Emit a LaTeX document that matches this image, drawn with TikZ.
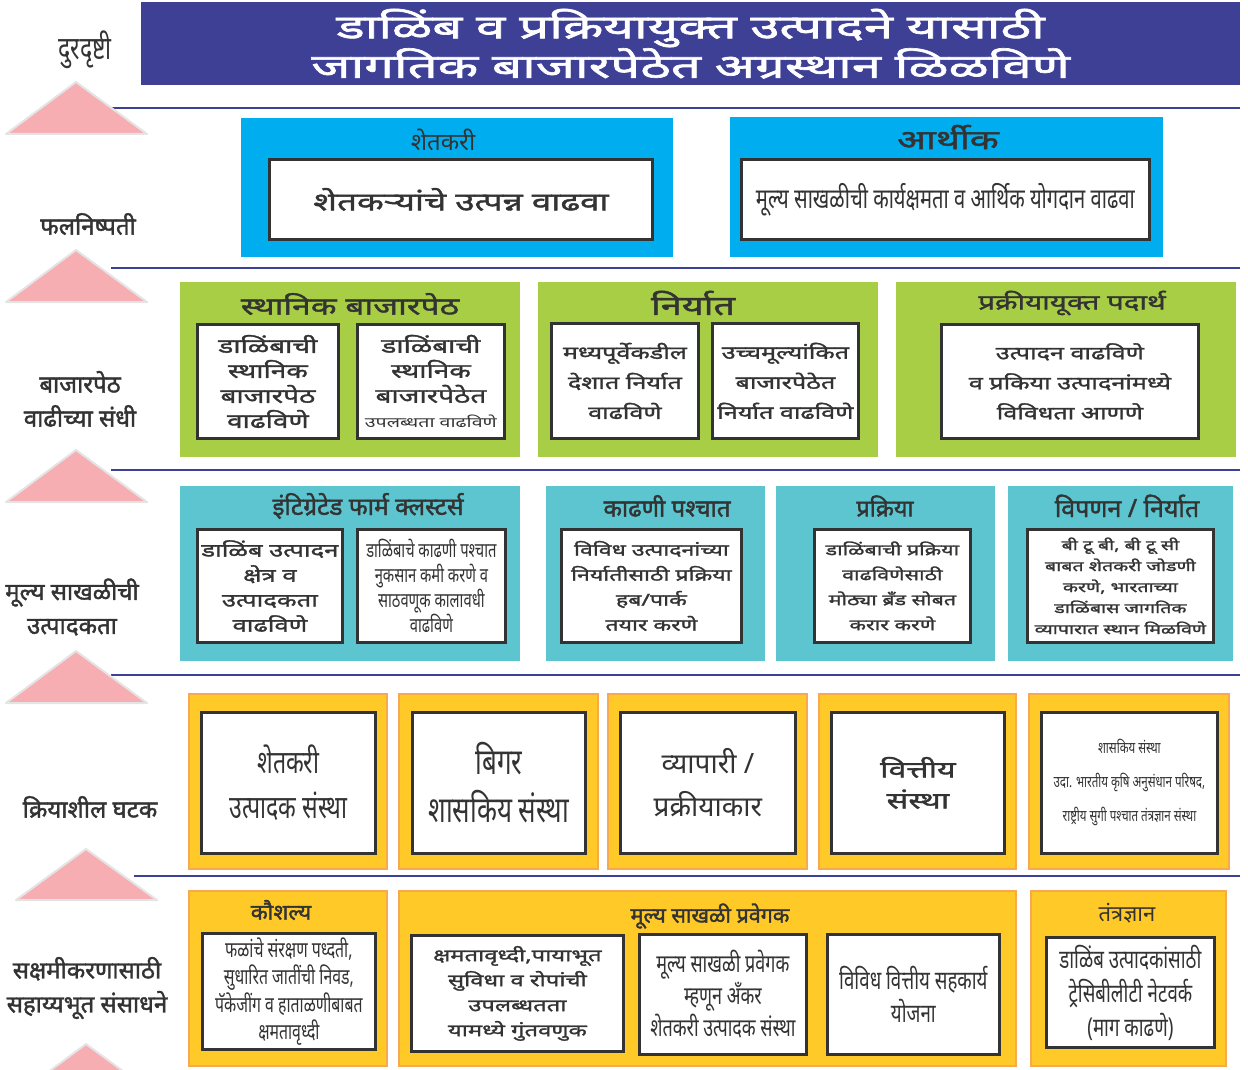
\documentclass[tikz,border=0pt]{standalone}
\usepackage{fontspec}
\newfontfamily\mr[Script=Devanagari]{Noto Sans}
\newfontfamily\mrb[Script=Devanagari,FakeBold=1.6]{Noto Sans}
\newfontfamily\mrw[Script=Devanagari,FakeStretch=1.4,FakeBold=1.6]{Noto Sans}
\newfontfamily\mrt[Script=Devanagari,FakeStretch=1.6,FakeBold=2]{Noto Sans}
\newfontfamily\mrn[Script=Devanagari,FakeStretch=0.72]{Noto Sans}
\definecolor{navy}{HTML}{3E4096}
\definecolor{skyblue}{HTML}{00AEEF}
\definecolor{leaf}{HTML}{A8CE45}
\definecolor{teal}{HTML}{5CC5CF}
\definecolor{sun}{HTML}{FFCA28}
\definecolor{sunedge}{HTML}{F7A850}
\definecolor{pinkfill}{HTML}{F7AEB3}
\definecolor{pinkedge}{HTML}{E4E4E4}
\definecolor{ink}{HTML}{333333}
\tikzset{%
	panel/.style = {anchor=north west,inner sep=0,draw=none},
	skypanel/.style = {panel,fill=skyblue},
	leafpanel/.style = {panel,fill=leaf},
	tealpanel/.style = {panel,fill=teal},
	sunpanel/.style = {panel,fill=sun,draw=sunedge,line width=2},
	wbox/.style = {anchor=north west,inner sep=0,draw=ink,line width=2.8,fill=white,align=center,text=ink},
	ptitle/.style = {text=ink,font=\mrb\fontsize{21}{25}\selectfont},
	sidelabel/.style = {align=center,text=ink,font=\mrb\fontsize{24}{34}\selectfont},
	uparrow/.style = {fill=pinkfill,draw=pinkedge,line width=2,line join=round},
	bandline/.style = {draw=navy,line width=2.6}%
}
\newcommand{\fs}[2]{\fontsize{#1}{#2}\selectfont}

\begin{document}
\begin{tikzpicture}[x=1pt,y=-1pt]
	\useasboundingbox (0,0) rectangle (1248,1070);
	
	% separators and arrows
	\draw[bandline] (111,108) -- (1240,108);
	\draw[bandline] (111,268) -- (1240,268);
	\draw[bandline] (111,470) -- (1240,470);
	\draw[bandline] (111,675) -- (1240,675);
	\draw[bandline] (134,876) -- (1240,876);
	\draw[uparrow] (6,134) -- (76,82) -- (147,134) -- cycle;
	\draw[uparrow] (6,302) -- (76,250) -- (147,302) -- cycle;
	\draw[uparrow] (6,502) -- (76,450) -- (147,502) -- cycle;
	\draw[uparrow] (6,703) -- (76,651) -- (147,703) -- cycle;
	\draw[uparrow] (16,900) -- (86,849) -- (157,900) -- cycle;
	\draw[uparrow] (16,1096) -- (86,1044) -- (157,1096) -- cycle;
	
	% side labels
	\node[sidelabel,font=\mrn\fs{32}{34}](lvision) at (85,50){दुरदृष्टी};
	\node[sidelabel](loutcome) at (88,224){फलनिष्पती};
	\node[sidelabel](lmarket) at (80,399){बाजारपेठ\\वाढीच्या संधी};
	\node[sidelabel](lvalue) at (72,607){मूल्य साखळीची\\उत्पादकता};
	\node[sidelabel](lactors) at (90,807){क्रियाशील घटक};
	\node[sidelabel](lsupport) at (87,988){सक्षमीकरणासाठी\\सहाय्यभूत संसाधने};
	
	% vision
	\node[panel,fill=navy,minimum width=1099,minimum height=83,align=center,text=white,
		font=\mrt\fs{33}{34}](vision) at (141,2)
		{डाळिंब व प्रक्रियायुक्त उत्पादने यासाठी\\जागतिक बाजारपेठेत अग्रस्थान ळिळविणे};
	
	% outcomes
	\node[skypanel,minimum width=432,minimum height=139](farmer) at (241,118){};
	\node[ptitle,font=\mr\fs{24}{25}](farmer-t) at (443,140){शेतकरी};
	\node[wbox,minimum width=383,minimum height=80,font=\mrw\fs{25}{28}](farmer-b) at (268,158)
		{शेतकऱ्यांचे उत्पन्न वाढवा};
	\node[skypanel,minimum width=433,minimum height=140](econ) at (730,117){};
	\node[ptitle,font=\mrw\fs{27}{28}](econ-t) at (948,137){आर्थीक};
	\node[wbox,minimum width=408,minimum height=80,font=\mrn\fs{28}{30}](econ-b) at (740,158)
		{मूल्य साखळीची कार्यक्षमता व आर्थिक योगदान वाढवा};
	
	% market opportunities
	\node[leafpanel,minimum width=340,minimum height=175](local) at (180,282){};
	\node[ptitle,font=\mrw\fs{24}{25}](local-t) at (350,304){स्थानिक बाजारपेठ};
	\node[wbox,minimum width=141,minimum height=114,font=\mrw\fs{20}{25}](local-b1) at (196,323)
		{डाळिंबाची\\स्थानिक\\बाजारपेठ\\वाढविणे};
	\node[wbox,minimum width=147,minimum height=114,font=\mrw\fs{20}{25}](local-b2) at (356,323)
		{डाळिंबाची\\स्थानिक\\बाजारपेठेत\\{\mr\fs{14}{25}\addfontfeature{FakeStretch=1.4}उपलब्धता वाढविणे}};
	\node[leafpanel,minimum width=340,minimum height=175](export) at (538,282){};
	\node[ptitle,font=\mrw\fs{27}{25}](export-t) at (693,303){निर्यात};
	\node[wbox,minimum width=147,minimum height=115,font=\mrw\fs{18}{30}](export-b1) at (550,322)
		{मध्यपूर्वेकडील\\देशात निर्यात\\वाढविणे};
	\node[wbox,minimum width=146,minimum height=115,font=\mrw\fs{18}{30}](export-b2) at (711,322)
		{उच्चमूल्यांकित\\बाजारपेठेत\\निर्यात वाढविणे};
	\node[leafpanel,minimum width=340,minimum height=175](processed) at (896,282){};
	\node[ptitle,font=\mrw\fs{21}{25}](processed-t) at (1072,303){प्रक्रीयायूक्त पदार्थ};
	\node[wbox,minimum width=257,minimum height=114,font=\mrw\fs{18}{30}](processed-b) at (940,323)
		{उत्पादन वाढविणे\\व प्रकिया उत्पादनांमध्ये\\विविधता आणणे};
	
	% value chain productivity
	\node[tealpanel,minimum width=340,minimum height=175](cluster) at (180,486){};
	\node[ptitle,font=\mrb\fs{24.5}{25}](cluster-t) at (368,506){इंटिग्रेटेड फार्म क्लस्टर्स};
	\node[wbox,minimum width=145,minimum height=113,font=\mrw\fs{18.3}{25}](cluster-b1) at (196,528)
		{डाळिंब उत्पादन\\क्षेत्र व\\उत्पादकता\\वाढविणे};
	\node[wbox,minimum width=148,minimum height=113,font=\mrn\fs{20.5}{25}](cluster-b2) at (356,528)
		{डाळिंबाचे काढणी पश्चात\\नुकसान कमी करणे व\\साठवणूक कालावधी\\वाढविणे};
	\node[tealpanel,minimum width=219,minimum height=175](postharvest) at (546,486){};
	\node[ptitle,font=\mrb\fs{24}{25}](postharvest-t) at (667,506){काढणी पश्चात};
	\node[wbox,minimum width=180,minimum height=113,font=\mrw\fs{16.5}{25}](postharvest-b) at (560,528)
		{विविध उत्पादनांच्या\\निर्यातीसाठी प्रक्रिया\\हब/पार्क\\तयार करणे};
	\node[tealpanel,minimum width=219,minimum height=175](processing) at (776,486){};
	\node[ptitle,font=\mrb\fs{23.5}{25}](processing-t) at (885,506){प्रक्रिया};
	\node[wbox,minimum width=156,minimum height=113,font=\mrw\fs{15.3}{25}](processing-b) at (813,528)
		{डाळिंबाची प्रक्रिया\\वाढविणेसाठी\\मोठ्या ब्रँड सोबत\\करार करणे};
	\node[tealpanel,minimum width=225,minimum height=175](marketing) at (1008,486){};
	\node[ptitle,font=\mrb\fs{25}{25}](marketing-t) at (1127,506){विपणन / निर्यात};
	\node[wbox,minimum width=186,minimum height=113,font=\mrw\fs{14}{21}](marketing-b) at (1026,528)
		{बी टू बी, बी टू सी\\बाबत शेतकरी जोडणी\\करणे, भारताच्या\\डाळिंबास जागतिक\\व्यापारात स्थान मिळविणे};
	
	% active actors
	\node[sunpanel,minimum width=198,minimum height=175](fpo) at (188,693){};
	\node[wbox,minimum width=174,minimum height=141,font=\mrn\fs{32}{45}](fpo-b) at (200,711)
		{शेतकरी\\उत्पादक संस्था};
	\node[sunpanel,minimum width=199,minimum height=175](ngo) at (398,693){};
	\node[wbox,minimum width=173,minimum height=141,font=\mrn\fs{36}{48}](ngo-b) at (411,711)
		{बिगर\\शासकिय संस्था};
	\node[sunpanel,minimum width=199,minimum height=175](trader) at (607,693){};
	\node[wbox,minimum width=175,minimum height=141,font=\mr\fs{28}{43}](trader-b) at (619,711)
		{व्यापारी /\\प्रक्रीयाकार};
	\node[sunpanel,minimum width=197,minimum height=175](finance) at (818,693){};
	\node[wbox,minimum width=173,minimum height=141,font=\mrw\fs{23}{31}](finance-b) at (830,711)
		{वित्तीय\\संस्था};
	\node[sunpanel,minimum width=200,minimum height=175](govt) at (1028,693){};
	\node[wbox,minimum width=176,minimum height=141,font=\mrn\fs{16}{34}](govt-b) at (1040,711)
		{शासकिय संस्था\\उदा. भारतीय कृषि अनुसंधान परिषद,\\राष्ट्रीय सुगी पश्चात तंत्रज्ञान संस्था};
	
	% supporting resources
	\node[sunpanel,minimum width=198,minimum height=175](skill) at (188,890){};
	\node[ptitle,font=\mrb\fs{22}{25}](skill-t) at (281,910){कौशल्य};
	\node[wbox,minimum width=173,minimum height=116,font=\mrn\fs{22}{27.5}](skill-b) at (201,932)
		{फळांचे संरक्षण पध्दती,\\सुधारित  जातींची निवड,\\पॅकेजींग व  हाताळणीबाबत\\क्षमतावृध्दी};
	\node[sunpanel,minimum width=617,minimum height=175](accel) at (398,890){};
	\node[ptitle,font=\mrb\fs{21.5}{25}](accel-t) at (710,916){मूल्य साखळी प्रवेगक};
	\node[wbox,minimum width=212,minimum height=116,font=\mrw\fs{17}{25}](accel-b1) at (410,934)
		{क्षमतावृध्दी,पायाभूत\\सुविधा  व रोपांची\\उपलब्धतता\\यामध्ये गुंतवणुक};
	\node[wbox,minimum width=167,minimum height=120,font=\mrn\fs{25}{32}](accel-b2) at (638,933)
		{मूल्य साखळी प्रवेगक\\म्हणून अँकर\\शेतकरी उत्पादक संस्था};
	\node[wbox,minimum width=172,minimum height=120,font=\mrn\fs{26}{33}](accel-b3) at (826,933)
		{विविध वित्तीय सहकार्य\\योजना};
	\node[sunpanel,minimum width=195,minimum height=175](tech) at (1030,890){};
	\node[ptitle,font=\mr\fs{22}{25}](tech-t) at (1127,913){तंत्रज्ञान};
	\node[wbox,minimum width=168,minimum height=110,font=\mrn\fs{26}{34}](tech-b) at (1045,936)
		{डाळिंब उत्पादकांसाठी\\ट्रेसिबीलीटी  नेटवर्क\\(माग काढणे)};
\end{tikzpicture}
\end{document}
